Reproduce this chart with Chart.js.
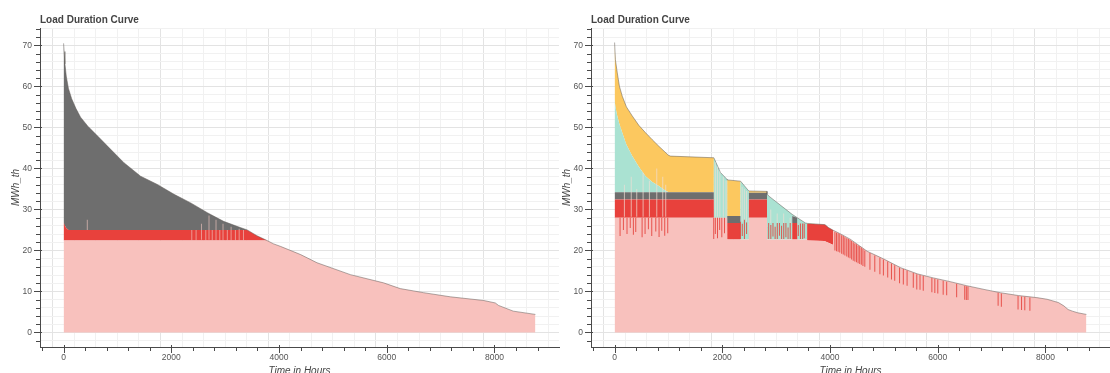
<!DOCTYPE html>
<html>
<head>
<meta charset="utf-8">
<script src="https://cdn.jsdelivr.net/npm/chart.js@4.4.1/dist/chart.umd.min.js"></script>
<style>
  html, body { margin: 0; padding: 0; background: #fff; overflow: hidden; }
  #wrap { position: relative; width: 1110px; height: 373px; overflow: hidden; }
  canvas { position: absolute; top: 0; }
  #left { left: 0; }
  #right { left: 551px; }
</style>
</head>
<body>
<div id="wrap">
  <canvas id="left" width="560" height="378"></canvas>
  <canvas id="right" width="559" height="378"></canvas>
</div>
<script>
// ---- axes ----
const X_LABELS = [0, 2000, 4000, 6000, 8000];
const Y_LABELS = [0, 10, 20, 30, 40, 50, 60, 70];
const X_MINOR_STEP = 400;
const Y_MINOR_STEP = 2;

// ---- left chart: hours of the sorted year, MWh_th per layer (stacked) ----
const L_HOURS = [0, 10, 25, 50, 90, 150, 230, 315, 450, 563, 700, 810, 1120, 1430, 1740, 2050, 2360,
  2670, 2970, 3280, 3410, 3590, 3780, 3900, 4025, 4400, 4705, 5325, 5940, 6250, 6685, 7180, 7800,
  8015, 8075, 8350, 8760];
const L_BASE = [22.4, 22.4, 22.4, 22.4, 22.4, 22.4, 22.4, 22.4, 22.4, 22.4, 22.4, 22.4, 22.4, 22.4,
  22.4, 22.4, 22.4, 22.4, 22.4, 22.4, 22.4, 22.4, 22.4, 21.6, 21.0, 19.0, 17.0, 14.1, 12.1, 10.7,
  9.7, 8.7, 7.8, 7.2, 6.6, 5.2, 4.4];
const L_PEAK = [4.6, 4.1, 3.6, 3.1, 2.6, 2.6, 2.6, 2.6, 2.6, 2.6, 2.6, 2.6, 2.6, 2.6, 2.6, 2.6, 2.6,
  2.6, 2.6, 2.6, 2.6, 1.2, 0, 0, 0, 0, 0, 0, 0, 0, 0, 0, 0, 0, 0, 0, 0];
const L_GREY = [43.5, 42.0, 39.5, 37.0, 34.5, 32.0, 29.6, 27.5, 25.3, 23.8, 22.0, 20.5, 16.4, 13.1,
  11.1, 8.7, 6.6, 4.2, 2.1, 0.6, 0, 0, 0, 0, 0, 0, 0, 0, 0, 0, 0, 0, 0, 0, 0, 0, 0];
// light single-hour streaks
const L_PALE_HOURS = [440, 2380, 2460, 2560, 2640, 2700, 2760, 2830, 2900, 2960, 3040, 3110, 3190, 3260, 3340];
const L_PALE_LOW = [25.0, 22.4, 22.4, 22.6, 22.4, 22.6, 22.4, 22.4, 22.4, 22.4, 22.4, 22.4, 22.4, 22.4, 22.4];
const L_PALE_HIGH = [27.5, 25.0, 25.0, 26.5, 25.0, 28.5, 25.0, 27.5, 25.0, 26.5, 25.0, 25.8, 25.0, 25.3, 25.0];

// ---- right chart ----
const R_HOURS = [0, 15, 50, 90, 143, 220, 328, 450, 575, 700, 822, 920, 1000, 1040, 1842, 1843, 1966,
  2090, 2091, 2337, 2338, 2492, 2493, 2830, 2831, 2860, 3297, 3298, 3390, 3391, 3543, 3574, 3575,
  3900, 3915, 3970, 4060, 4061, 4200, 4380, 4690, 5000, 5310, 5620, 5920, 6230, 6540, 6860, 7160,
  7500, 7840, 8030, 8240, 8340, 8420, 8500, 8600, 8760];
const R_BASE = [28, 28, 28, 28, 28, 28, 28, 28, 28, 28, 28, 28, 28, 28, 28, 28, 28,
  28, 22.7, 22.7, 22.7, 22.7, 28, 28, 22.7, 22.7, 22.7, 22.7, 22.7, 22.7, 22.7, 22.7, 22.4,
  22.3, 22.2, 21.9, 21.3, 24.9, 24.0, 22.7, 19.8, 17.9, 15.8, 14.3, 13.3, 12.4, 11.4, 10.5, 9.7,
  9.0, 8.5, 8.1, 7.3, 6.5, 5.6, 5.2, 4.8, 4.4];
const R_PEAK = [4.4, 4.4, 4.4, 4.4, 4.4, 4.4, 4.4, 4.4, 4.4, 4.4, 4.4, 4.4, 4.4, 4.4, 4.4, 0, 0,
  0, 4.0, 4.0, 0, 0, 4.4, 4.4, 0, 0, 0, 4.0, 4.0, 0, 0, 0, 4.1,
  4.0, 4.0, 3.7, 3.6, 0, 0, 0, 0, 0, 0, 0, 0, 0, 0, 0, 0,
  0, 0, 0, 0, 0, 0, 0, 0, 0];
const R_GREY = [1.8, 1.8, 1.8, 1.8, 1.8, 1.8, 1.8, 1.8, 1.8, 1.8, 1.8, 1.8, 1.8, 1.8, 1.8, 0, 0,
  0, 1.7, 1.7, 0, 0, 1.7, 1.7, 0, 0, 0, 1.7, 1.3, 0, 0, 0, 0,
  0, 0, 0, 0, 0, 0, 0, 0, 0, 0, 0, 0, 0, 0, 0, 0,
  0, 0, 0, 0, 0, 0, 0, 0, 0];
const R_TEAL = [22.6, 20.8, 18.6, 16.6, 14.5, 11.6, 8.8, 6.2, 3.9, 2.5, 1.5, 0.6, 0, 0, 0, 14.6, 11.0,
  9.3, 0, 0, 14.2, 11.8, 0, 0, 11.1, 10.6, 6.1, 0.4, 0, 5.3, 4.0, 3.9, 0,
  0, 0, 0, 0, 0, 0, 0, 0, 0, 0, 0, 0, 0, 0, 0, 0,
  0, 0, 0, 0, 0, 0, 0, 0, 0];
const R_YELLOW = [13.9, 11.5, 10.5, 9.2, 8.9, 9.2, 9.8, 10.1, 10.6, 10.3, 9.7, 9.4, 9.0, 8.8, 8.4, 0, 0,
  0, 8.8, 8.5, 0, 0, 0.4, 0.3, 0, 0, 0, 0, 0, 0, 0, 0, 0.1,
  0, 0, 0, 0, 0, 0, 0, 0, 0, 0, 0, 0, 0, 0, 0, 0,
  0, 0, 0, 0, 0, 0, 0, 0, 0];
// red single-hour streaks
const R_RED_HOURS = [111, 173, 240, 300, 358, 402, 520, 575, 637, 699, 774, 835, 885, 940, 996,
  1850, 1880, 1920, 1960, 2000, 2050, 2345, 2380, 2420, 2460,
  2870, 2910, 2950, 2990, 3030, 3070, 3110, 3150, 3190, 3230, 3270, 3340, 3420, 3460, 3500, 3530,
  4100, 4160, 4225, 4285, 4350, 4410, 4470, 4530, 4590, 4655, 4750, 4840, 4935, 5000, 5080, 5150,
  5210, 5300, 5370, 5440, 5555, 5620, 5680, 5740, 5900, 5955, 6010, 6110, 6175, 6360, 6510, 6540,
  6570, 7130, 7190, 7500, 7565, 7625, 7720,
  4130, 4190, 4255, 4320, 4380, 4440, 4500, 4560, 4620];
const R_RED_LOW = [23.5, 25.0, 24.0, 25.5, 23.8, 24.5, 23.2, 24.0, 25.2, 23.5, 24.6, 23.3, 24.8, 23.6, 24.2,
  22.8, 24.0, 23.0, 25.0, 23.2, 24.2, 22.8, 23.5, 22.8, 24.0,
  22.8, 22.8, 23.4, 22.8, 22.8, 23.6, 22.8, 22.8, 23.2, 22.8, 22.8, 22.8, 23.5, 22.8, 22.8, 23.0,
  20.0, 19.7, 19.2, 18.8, 18.3, 17.8, 17.3, 16.9, 16.5, 16.0, 15.3, 14.8, 14.2, 13.9, 13.4, 12.9,
  12.6, 12.0, 11.7, 11.4, 10.9, 10.5, 10.4, 10.2, 9.8, 9.6, 9.5, 9.2, 9.1, 8.6, 8.0, 7.9,
  7.9, 6.5, 6.3, 5.6, 5.5, 5.4, 5.3,
  19.8, 19.5, 19.0, 18.5, 18.1, 17.5, 17.1, 16.7, 16.2];
const R_RED_HIGH = [28, 28, 28, 28, 28, 28, 28, 28, 28, 28, 28, 28, 28, 28, 28,
  28, 28, 28, 28, 28, 28, 27.0, 26.5, 27.5, 26.8,
  26.7, 26.2, 26.7, 25.8, 26.7, 26.7, 26.0, 26.7, 26.7, 25.6, 26.7, 26.7, 26.2, 26.6, 26.6, 26.6,
  24.5, 24.2, 23.7, 23.2, 22.8, 22.3, 21.7, 21.2, 20.7, 20.0, 19.4, 18.8, 18.2, 17.8, 17.3, 16.8,
  16.4, 15.8, 15.5, 15.1, 14.5, 14.2, 14.0, 13.8, 13.3, 13.1, 12.9, 12.6, 12.4, 11.9, 11.4, 11.3,
  11.2, 9.7, 9.5, 8.9, 8.8, 8.7, 8.5,
  24.3, 24.0, 23.5, 23.0, 22.6, 22.0, 21.5, 21.0, 20.4];
// light single-hour streaks
const R_PALE_HOURS = [173, 300, 402, 520, 637, 774, 885, 940, 1860, 1900, 1945, 2010, 2060,
  2360, 2400, 2440, 2890, 3010, 3130, 3250];
const R_PALE_LOW = [28.2, 28.2, 28.2, 28.2, 28.2, 28.2, 28.2, 28.2, 28.2, 28.2, 28.2, 28.2, 28.2,
  27.0, 27.0, 27.0, 26.7, 26.7, 26.7, 26.7];
const R_PALE_HIGH = [36, 38, 35, 39, 37, 40, 38, 36, 41.5, 40.5, 39.5, 38.0, 37.0,
  35.5, 35.0, 34.5, 30.0, 29.0, 29.0, 28.0];

const COLORS = {
  base: '#f8c1bd', peak: '#e8413c', grey: '#6e6e6e', teal: '#aae2d2', yellow: '#fcc85f',
  redStreak: 'rgba(228,62,56,0.85)', paleLeft: 'rgba(238,196,190,0.65)', paleRight: 'rgba(240,222,212,0.7)'
};
const TEXT = '#444';
const AXIS = '#4a4a4a';
Chart.defaults.font.family = '"Liberation Sans", Arial, Helvetica, sans-serif';

function range(from, to, step) {
  const out = [];
  for (let v = from; v <= to + 1e-9; v += step) out.push(v);
  return out;
}

function area(hours, values, color, i, top) {
  return {
    type: 'line',
    stack: 'load',
    data: hours.map((h, k) => ({ x: h, y: values[k] })),
    backgroundColor: color,
    borderColor: top ? 'rgba(95,90,85,0.5)' : 'rgba(0,0,0,0)',
    borderWidth: top ? 1 : 0,
    pointRadius: 0,
    tension: 0,
    fill: i === 0 ? 'origin' : '-1'
  };
}

function streaks(hours, lows, highs, color) {
  return {
    type: 'bar',
    data: hours.map((h, k) => ({ x: h, y: [lows[k], highs[k]] })),
    backgroundColor: color,
    borderWidth: 0,
    barThickness: 1,
    inflateAmount: 0,
    order: -1
  };
}

const tickMarks = {
  id: 'tickMarks',
  afterDraw(chart) {
    const { ctx, scales: { x, y }, chartArea } = chart;
    ctx.save();
    ctx.strokeStyle = AXIS;
    ctx.lineWidth = 1;
    ctx.beginPath();
    x.ticks.forEach(t => {
      const px = Math.round(x.getPixelForValue(t.value)) + 0.5;
      const major = X_LABELS.includes(t.value);
      ctx.moveTo(px, chartArea.bottom - (major ? 2 : 0));
      ctx.lineTo(px, chartArea.bottom + (major ? 6 : 4));
    });
    y.ticks.forEach(t => {
      const py = Math.round(y.getPixelForValue(t.value)) + 0.5;
      const major = Y_LABELS.includes(t.value);
      ctx.moveTo(chartArea.left + (major ? 2 : 0), py);
      ctx.lineTo(chartArea.left - (major ? 6 : 4), py);
    });
    ctx.stroke();
    ctx.restore();
  }
};

function makeChart(id, datasets, padRight) {
  const xMinor = range(-X_MINOR_STEP, 8800, X_MINOR_STEP);
  const yMinor = range(-Y_MINOR_STEP, 74, Y_MINOR_STEP);
  return new Chart(document.getElementById(id), {
    type: 'line',
    data: { datasets },
    plugins: [tickMarks],
    options: {
      responsive: false,
      animation: false,
      events: [],
      layout: { padding: { left: 0, right: padRight, top: 0, bottom: 1 } },
      plugins: {
        legend: { display: false },
        tooltip: { enabled: false },
        filler: { drawTime: 'beforeDatasetsDraw' },
        title: {
          display: true, text: 'Load Duration Curve', align: 'start', fullSize: false,
          color: TEXT, font: { size: 10, weight: 'bold' }, padding: { top: 14, bottom: 2 }
        }
      },
      scales: {
        x: {
          type: 'linear', min: -438, max: 9198, offset: false,
          afterFit: s => { s.height = 30; },
          afterBuildTicks: s => { s.ticks = xMinor.map(v => ({ value: v })); },
          ticks: {
            autoSkip: false, maxRotation: 0, padding: 6, color: '#555', font: { size: 8.5 },
            callback: v => X_LABELS.includes(v) ? String(v) : ''
          },
          grid: {
            drawTicks: false,
            color: c => c.tick && X_LABELS.includes(c.tick.value) ? '#e3e3e3' : '#f1f1f1'
          },
          border: { display: true, color: AXIS, width: 1 },
          title: {
            display: true, text: 'Time in Hours', color: TEXT,
            font: { size: 10, style: 'italic' }, padding: { top: 0, bottom: 0 }
          }
        },
        y: {
          type: 'linear', min: -3.54, max: 74.24,
          afterFit: s => { s.width = 40; },
          afterBuildTicks: s => { s.ticks = yMinor.map(v => ({ value: v })); },
          ticks: {
            autoSkip: false, padding: 8, color: '#555', font: { size: 8.5 },
            callback: v => Y_LABELS.includes(v) ? String(v) : ''
          },
          grid: {
            drawTicks: false,
            color: c => c.tick && Y_LABELS.includes(c.tick.value) ? '#e3e3e3' : '#f1f1f1'
          },
          border: { display: true, color: AXIS, width: 1 },
          title: {
            display: true, text: 'MWh_th', color: TEXT,
            font: { size: 10, style: 'italic' }, padding: { top: 10, bottom: 0 }
          }
        }
      }
    }
  });
}

makeChart('left', [
  area(L_HOURS, L_BASE, COLORS.base, 0, false),
  area(L_HOURS, L_PEAK, COLORS.peak, 1, false),
  area(L_HOURS, L_GREY, COLORS.grey, 2, true),
  streaks(L_PALE_HOURS, L_PALE_LOW, L_PALE_HIGH, COLORS.paleLeft)
], 1);

makeChart('right', [
  area(R_HOURS, R_BASE, COLORS.base, 0, false),
  area(R_HOURS, R_PEAK, COLORS.peak, 1, false),
  area(R_HOURS, R_GREY, COLORS.grey, 2, false),
  area(R_HOURS, R_TEAL, COLORS.teal, 3, false),
  area(R_HOURS, R_YELLOW, COLORS.yellow, 4, true),
  streaks(R_RED_HOURS, R_RED_LOW, R_RED_HIGH, COLORS.redStreak),
  streaks(R_PALE_HOURS, R_PALE_LOW, R_PALE_HIGH, COLORS.paleRight)
], 0);
</script>
</body>
</html>
